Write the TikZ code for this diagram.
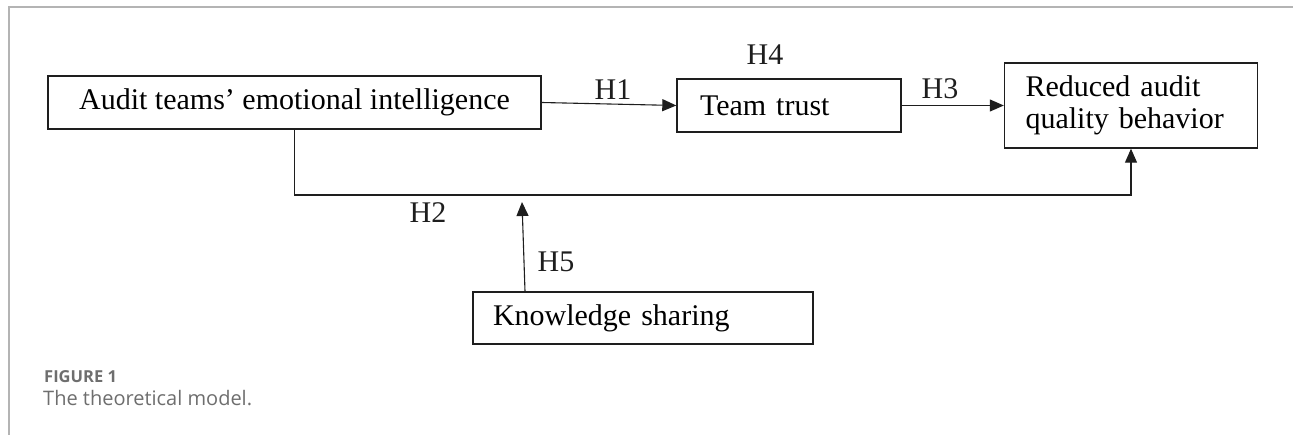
\documentclass[tikz,border=0pt]{standalone}
\usepackage{fontspec}
\setmainfont{Liberation Serif}
\newfontfamily\capfont{Open Sans}
\usetikzlibrary{arrows.meta}
\definecolor{frame}{HTML}{B4B4B4}
\definecolor{capgray}{HTML}{6E6E6E}
\definecolor{ink}{HTML}{1E1E1E}
\tikzset{
  box/.style={draw=ink, line width=1.4pt, rectangle, inner sep=0pt, font=\fontsize{30}{32}\selectfont},
  lbox/.style={box, align=left},
  lab/.style={font=\fontsize{30}{32}\selectfont, inner sep=0pt, text=ink},
  arr/.style={draw=ink, line width=1.1pt, -{Triangle[length=14pt,width=12pt]}},
}
\begin{document}
\begin{tikzpicture}[x=1pt,y=-1pt]
\useasboundingbox (0,0) rectangle (1293,435);
% frame
\draw[frame, line width=1.6pt] (9,435) -- (9,7) -- (1293,7);
% boxes
\node[box, minimum width=493pt, minimum height=53pt] (audit) at (294.5,102.5) {Audit teams’ emotional intelligence};
\node[lbox, minimum width=224pt, minimum height=53pt, text width=178pt, inner xsep=23pt] (trust) at (789,105.5) {Team trust};
\node[lbox, minimum width=252pt, minimum height=85pt, text width=211pt, inner xsep=21pt, inner ysep=0pt] (reduced) at (1131,105.5) {Reduced audit\\quality behavior};
\node[lbox, minimum width=340pt, minimum height=52pt, text width=300pt, inner xsep=20pt] (know) at (643,318) {Knowledge sharing};
% connectors
\draw[arr] (audit.east) -- (trust.west);
\draw[arr] (trust.east) -- (reduced.west);
\draw[arr] (audit.south) -- (audit.south |- 0,195) -- (reduced.south |- 0,195) -- (reduced.south);
\coordinate (h5end) at (522,202);
\draw[arr] (know.north -| 525,0) -- (h5end);
% labels
\node[lab] (h1) at (613,90) {H1};
\node[lab] (h4) at (765,55) {H4};
\node[lab] (h3) at (940,89) {H3};
\node[lab] (h2) at (428,213) {H2};
\node[lab] (h5) at (556,262) {H5};
% caption
\node[anchor=base west, inner sep=0pt, text=capgray, font=\capfont\fontsize{16.5}{18}\selectfont\bfseries] (fig) at (44,383) {FIGURE 1};
\node[anchor=base west, inner sep=0pt, text=capgray, font=\capfont\fontsize{20}{22}\selectfont] (cap) at (43,406) {The theoretical model.};
\end{tikzpicture}
\end{document}
